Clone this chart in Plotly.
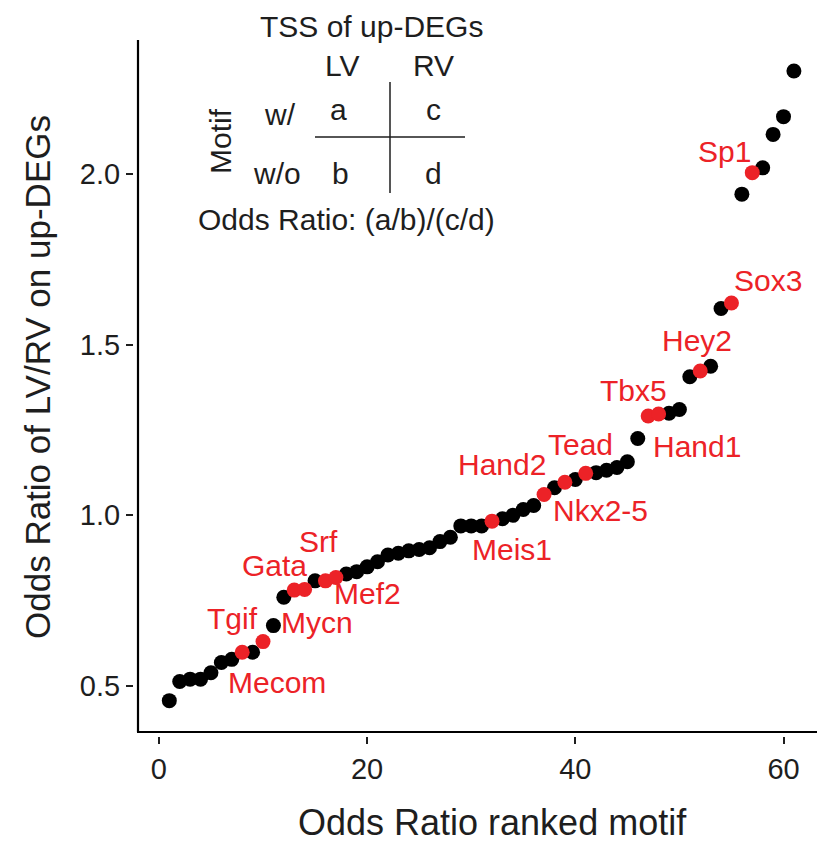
import plotly.graph_objects as go

# ---- data ----
ranks = list(range(1, 62))
odds_ratio = [
    0.457, 0.513, 0.520, 0.520, 0.539, 0.569, 0.578, 0.599, 0.599, 0.630,
    0.677, 0.760, 0.781, 0.783, 0.808, 0.808, 0.818, 0.828, 0.835, 0.849,
    0.864, 0.884, 0.889, 0.896, 0.900, 0.905, 0.923, 0.936, 0.969, 0.969,
    0.969, 0.983, 0.990, 1.000, 1.017, 1.029, 1.061, 1.081, 1.097, 1.105,
    1.123, 1.125, 1.132, 1.140, 1.157, 1.225, 1.291, 1.297, 1.299, 1.310,
    1.406, 1.423, 1.437, 1.606, 1.622, 1.941, 2.004, 2.018, 2.116, 2.168,
    2.302,
]
highlight_ranks = [8, 10, 13, 14, 16, 17, 32, 37, 39, 41, 47, 48, 52, 55, 57]
highlight_names = ["Tgif", "Mecom", "Mycn", "Gata", "Srf", "Mef2", "Meis1", "Hand2",
                   "Nkx2-5", "Tead", "Tbx5", "Hand1", "Hey2", "Sox3", "Sp1"]
x_ticks = [0, 20, 40, 60]
y_ticks = [0.5, 1.0, 1.5, 2.0]

# label offsets in pixels (dx, dy downward) from each highlighted point
label_offsets = {
    "Tgif": (-10, -34), "Mecom": (14, 41), "Mycn": (23, 32), "Gata": (-30, -24),
    "Srf": (-7, -39), "Mef2": (32, 16), "Meis1": (20, 28), "Hand2": (-42, -30),
    "Nkx2-5": (36, 28), "Tead": (-5, -29), "Tbx5": (-15, -26), "Hand1": (38, 33),
    "Hey2": (-3, -30), "Sox3": (37, -23), "Sp1": (-28, -21),
}

BLACK = "#000000"
RED = "#EC2227"
TXT = "#1e1e1e"
FONT = "Liberation Sans, Arial, Helvetica, sans-serif"

W, H = 817, 842
L, T, B_PX, R_PX = 134, 40, 736, 817


def px(xp, yp):
    return (xp - L) / (R_PX - L), (B_PX - yp) / (B_PX - T)


colors = [RED if r in highlight_ranks else BLACK for r in ranks]
# draw black first, red on top
order = sorted(range(len(ranks)), key=lambda i: colors[i] == RED)

fig = go.Figure()
fig.add_trace(go.Scatter(
    x=[ranks[i] for i in order], y=[odds_ratio[i] for i in order], mode="markers",
    marker=dict(size=15, color=[colors[i] for i in order], line=dict(width=0)),
    hoverinfo="x+y", showlegend=False,
))

annotations = []
for name, r in zip(highlight_names, highlight_ranks):
    dx, dy = label_offsets[name]
    annotations.append(dict(
        x=r, y=odds_ratio[r - 1], xref="x", yref="y", text=name, showarrow=False,
        xshift=dx, yshift=-dy, xanchor="center", yanchor="middle",
        font=dict(family=FONT, size=30, color=RED),
    ))

# inset explanation
inset = [
    ("TSS of up-DEGs", 371, 27, 0), ("LV", 342, 65, 0), ("RV", 433, 65, 0),
    ("w/", 280, 114, 0), ("a", 338, 109, 0), ("c", 433, 109, 0),
    ("w/o", 277, 173, 0), ("b", 340, 173, 0), ("d", 433, 173, 0),
    ("Odds Ratio: (a/b)/(c/d)", 346, 219, 0), ("Motif", 221, 141, -90),
]
for text, xp, yp, ang in inset:
    xx, yy = px(xp, yp)
    annotations.append(dict(
        x=xx, y=yy, xref="paper", yref="paper", text=text, showarrow=False,
        xanchor="center", yanchor="middle", textangle=ang,
        font=dict(family=FONT, size=30, color=TXT),
    ))

# axis titles
xx, yy = px(492, 822)
annotations.append(dict(x=xx, y=yy, xref="paper", yref="paper", text="Odds Ratio ranked motif",
                        showarrow=False, xanchor="center", yanchor="middle",
                        font=dict(family=FONT, size=36, color=TXT)))
xx, yy = px(37, 377)
annotations.append(dict(x=xx, y=yy, xref="paper", yref="paper", text="Odds Ratio of LV/RV on up-DEGs",
                        showarrow=False, xanchor="center", yanchor="middle", textangle=-90,
                        font=dict(family=FONT, size=35, color=TXT)))

shapes = []
# inset table lines
x0, y0 = px(315, 137); x1, y1 = px(465, 137)
shapes.append(dict(type="line", xref="paper", yref="paper", x0=x0, y0=y0, x1=x1, y1=y1,
                   line=dict(color=TXT, width=1.5)))
x0, y0 = px(390, 82); x1, y1 = px(390, 193)
shapes.append(dict(type="line", xref="paper", yref="paper", x0=x0, y0=y0, x1=x1, y1=y1,
                   line=dict(color=TXT, width=1.5)))
# axis lines (offset from ticks, ggplot-like)
x0, y0 = px(138, 40); x1, y1 = px(138, 732)
shapes.append(dict(type="line", xref="paper", yref="paper", x0=x0, y0=y0, x1=x1, y1=y1,
                   line=dict(color=BLACK, width=2.2)))
x0, y0 = px(137, 732); x1, y1 = px(817, 732)
shapes.append(dict(type="line", xref="paper", yref="paper", x0=x0, y0=y0, x1=x1, y1=y1,
                   line=dict(color=BLACK, width=2.2)))

x_per_px = 1 / 10.41
y_per_px = 1 / 341.3
x_range = [(L - 158.9) * x_per_px, (R_PX - 158.9) * x_per_px]
y_range = [0.5 - (B_PX - 686) * y_per_px, 2.0 + (174 - T) * y_per_px]

fig.update_layout(
    width=W, height=H, margin=dict(l=L, r=W - R_PX, t=T, b=H - B_PX, pad=0),
    plot_bgcolor="white", paper_bgcolor="white",
    annotations=annotations, shapes=shapes,
    xaxis=dict(range=x_range, tickvals=x_ticks, showgrid=False, zeroline=False, showline=False,
               ticks="outside", ticklen=7, tickwidth=2, tickcolor=TXT,
               tickfont=dict(family=FONT, size=29, color=TXT)),
    yaxis=dict(range=y_range, tickvals=y_ticks, tickformat=".1f", showgrid=False, zeroline=False,
               showline=False, ticks="outside", ticklen=7, tickwidth=2, tickcolor=TXT,
               tickfont=dict(family=FONT, size=29, color=TXT)),
    showlegend=False,
)

fig.write_html("out.html")
